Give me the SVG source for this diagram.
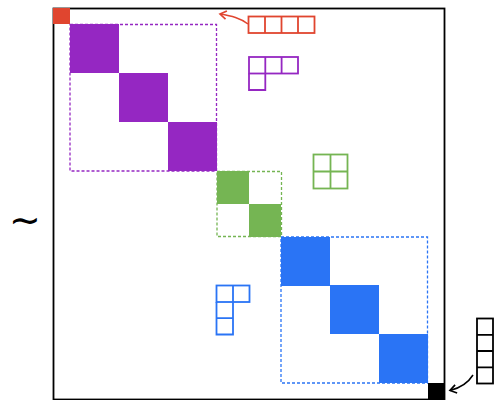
<svg xmlns="http://www.w3.org/2000/svg" width="494" height="400" viewBox="0 0 494 400">
<defs>
<style>
.pu{fill:#9527C2}.gr{fill:#75B553}.bl{fill:#2A74F5}
.dash{fill:none;stroke-width:1.3;stroke-dasharray:3 2}
.cell{fill:none;stroke-width:1.8}
.conn{fill:none;stroke-width:1.5}
</style>
<marker id="ahR" viewBox="0 0 10 10" refX="8" refY="5" markerWidth="7" markerHeight="7" orient="auto"><path d="M2,1 L8,5 L2,9" fill="none" stroke="#E0452F" stroke-width="1.6"/></marker>
<marker id="ahK" viewBox="0 0 10 10" refX="8" refY="5" markerWidth="7" markerHeight="7" orient="auto"><path d="M2,1 L8,5 L2,9" fill="none" stroke="#000" stroke-width="1.6"/></marker>
</defs>
<rect x="0" y="0" width="494" height="400" fill="#fff"/>
<g id="matrix">
<rect x="53.5" y="8.5" width="391" height="391" fill="none" stroke="#000" stroke-width="1.8"/>
</g>
<g id="red-block"><rect x="53" y="8" width="17" height="16" fill="#E0452F"/></g>
<g id="purple-block">
<rect class="pu" x="70" y="24" width="49" height="49"/>
<rect class="pu" x="119" y="73" width="49" height="49"/>
<rect class="pu" x="168" y="122" width="49" height="49"/>
<rect class="dash" x="70" y="24.5" width="146.5" height="146.5" stroke="#9527C2"/>
</g>
<g id="green-block">
<rect class="gr" x="217" y="171" width="32" height="33"/>
<rect class="gr" x="249" y="204" width="32" height="33"/>
<rect class="dash" x="217" y="171.5" width="64.5" height="65" stroke="#75B553"/>
</g>
<g id="blue-block">
<rect class="bl" x="281" y="237" width="49" height="49"/>
<rect class="bl" x="330" y="285" width="49" height="49"/>
<rect class="bl" x="379" y="334" width="49" height="49"/>
<rect class="dash" x="281" y="237" width="146.5" height="146" stroke="#2A74F5"/>
</g>
<g id="black-block"><rect x="428" y="383" width="16.5" height="16.5" fill="#000"/></g>
<g id="red-row" stroke="#E0452F">
<rect class="cell" x="248.5" y="16.5" width="66" height="16.5"/>
<path class="cell" d="M265,16.5V33M281.5,16.5V33M298,16.5V33"/>
</g>
<g id="purple-L" stroke="#9527C2">
<rect class="cell" x="249" y="57" width="49" height="16.5"/>
<path class="cell" d="M265.3,57V73.5M281.6,57V73.5M249,73.5V90H265.3V73.5"/>
</g>
<g id="green-square" stroke="#75B553">
<rect class="cell" x="313.5" y="154.5" width="34" height="34"/>
<path class="cell" d="M330.5,154.5V188.5M313.5,171.5H347.5"/>
</g>
<g id="blue-shape" stroke="#2A74F5">
<rect class="cell" x="216.5" y="285.5" width="33" height="16.5"/>
<path class="cell" d="M233,285.5V318M216.5,302V334.5H233V302M216.5,318.2H233"/>
</g>
<g id="black-column" stroke="#000">
<rect class="cell" x="477" y="318.5" width="16" height="65"/>
<path class="cell" d="M477,334.8H493M477,351H493M477,367.3H493"/>
</g>
<g id="connectors">
<path class="conn" stroke="#E0452F" d="M248,24 C240,18 232,16 220,14" marker-end="url(#ahR)"/>
<path class="conn" stroke="#000" d="M473,375 C468,383 460,388 450,390.5" marker-end="url(#ahK)"/>
</g>
<g id="tilde">
<text x="25" y="233" font-family="DejaVu Sans, sans-serif" font-size="38" text-anchor="middle" fill="#000">∼</text>
</g>
</svg>
